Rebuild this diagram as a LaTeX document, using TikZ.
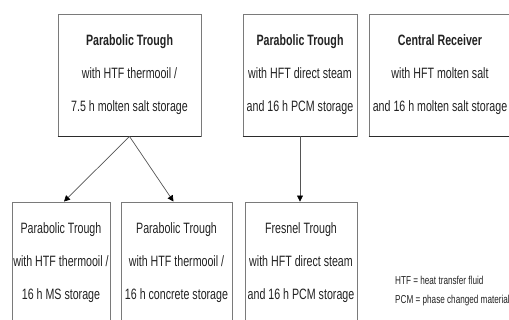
\documentclass[tikz,border=0pt]{standalone}
\usepackage{fontspec}
\setmainfont[FakeStretch=0.71]{Liberation Sans}
\usetikzlibrary{arrows.meta}
\usepackage{xcolor}
\definecolor{bBox}  {HTML}{7A7A7A}
\definecolor{bShade}{HTML}{2B2B2B}
\definecolor{cArr}  {HTML}{555555}
\definecolor{cText} {HTML}{222222}
\tikzset{
  box/.style={draw=bBox, line width=0.9pt, align=center, inner sep=0pt,
              minimum height=122pt, text=cText, font=\fontsize{15}{33}\selectfont},
  shade/.style={draw=bShade, line width=1.8pt},
  arr/.style={-{Triangle[length=6pt,width=6pt,color=black]}, draw=cArr, line width=0.7pt},
  legend/.style={align=left, anchor=west, inner sep=0pt, text=cText,
                 font=\fontsize{11.5}{19}\selectfont},
}

\begin{document}
\begin{tikzpicture}[x=1pt, y=-1pt]

% ── Frame ─────────────────────────────────────────────────────────────────────
\clip (0,0) rectangle (509,320);

% ── Y levels ──────────────────────────────────────────────────────────────────
\def\ytop{75}
\def\ybot{263}

% ── Top row ───────────────────────────────────────────────────────────────────
\node[box, minimum width=143pt] (ptA) at (129.5, \ytop)
  {\textbf{Parabolic Trough}\\with HTF thermooil /\\7.5 h molten salt storage};

\node[box, minimum width=114pt] (ptB) at (300, \ytop)
  {\textbf{Parabolic Trough}\\with HFT direct steam\\and 16 h PCM storage};

\node[box, minimum width=142pt] (crC) at (440, \ytop)
  {\textbf{Central Receiver}\\with HFT molten salt\\and 16 h molten salt storage};

% ── Bottom row ────────────────────────────────────────────────────────────────
\node[box, minimum width=98pt] (ptD) at (61, \ybot)
  {Parabolic Trough\\with HTF thermooil /\\16 h MS storage};

\node[box, minimum width=111pt] (ptE) at (176.5, \ybot)
  {Parabolic Trough\\with HTF thermooil /\\16 h concrete storage};

\node[box, minimum width=112pt] (frF) at (301, \ybot)
  {Fresnel Trough\\with HFT direct steam\\and 16 h PCM storage};

% ── Shaded box bottoms ────────────────────────────────────────────────────────
\draw[shade] (ptA.south west) -- (ptA.south east);
\draw[shade] (ptB.south west) -- (ptB.south east);
\draw[shade] (crC.south west) -- (crC.south east);

% ── Arrows ────────────────────────────────────────────────────────────────────
\draw[arr] (ptA.south) -- ([xshift=3pt]ptD.north);
\draw[arr] (ptA.south) -- ([xshift=-3pt]ptE.north);
\draw[arr] (ptB.south) -- (ptB.south |- frF.north);

% ── Legend ────────────────────────────────────────────────────────────────────
\node[legend] (legend) at (395, 291.5)
  {HTF = heat transfer fluid\\PCM = phase changed material};

\end{tikzpicture}
\end{document}
